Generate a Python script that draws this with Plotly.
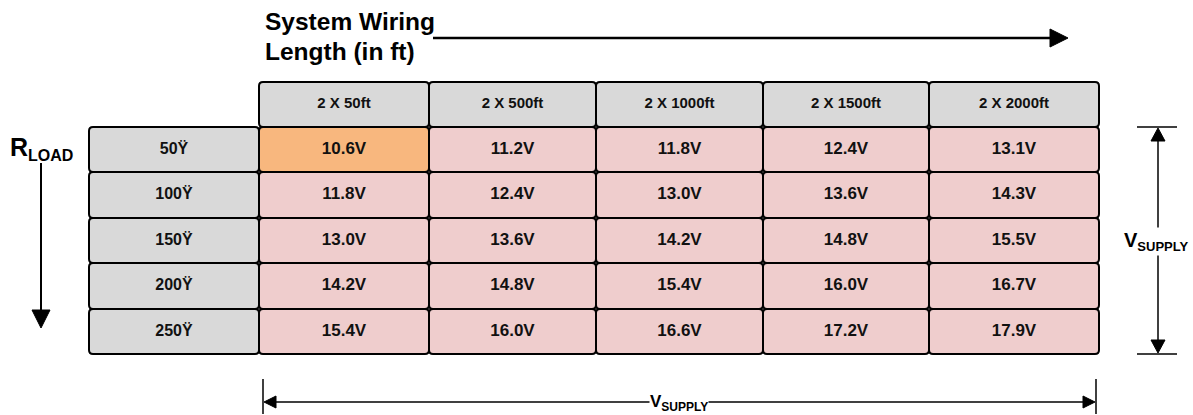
import plotly.graph_objects as go

# ---- data ----
wiring_lengths = ["2 X 50ft", "2 X 500ft", "2 X 1000ft", "2 X 1500ft", "2 X 2000ft"]
load_labels = ["50Ÿ", "100Ÿ", "150Ÿ", "200Ÿ", "250Ÿ"]
v_50 = [10.6, 11.2, 11.8, 12.4, 13.1]
v_100 = [11.8, 12.4, 13.0, 13.6, 14.3]
v_150 = [13.0, 13.6, 14.2, 14.8, 15.5]
v_200 = [14.2, 14.8, 15.4, 16.0, 16.7]
v_250 = [15.4, 16.0, 16.6, 17.2, 17.9]
values = [v_50, v_100, v_150, v_200, v_250]

# ---- layout geometry (pixel space) ----
W, H = 1193, 415
col_edges = [259, 429, 596, 763, 929, 1099]
label_col = (89, 259)
header_y = (82, 127)
row_edges = [127, 172, 218, 263, 309, 354]

GRAY = "#D9D9D9"
PINK = "#EFCDCD"
ORANGE = "#F8B77E"
FONT = "Liberation Sans, Arial, sans-serif"


def rrect(x0, y0, x1, y1, r=4):
    return (f"M {x0+r},{y0} L {x1-r},{y0} Q {x1},{y0} {x1},{y0+r} "
            f"L {x1},{y1-r} Q {x1},{y1} {x1-r},{y1} L {x0+r},{y1} "
            f"Q {x0},{y1} {x0},{y1-r} L {x0},{y0+r} Q {x0},{y0} {x0+r},{y0} Z")


shapes = []


def cell(x0, y0, x1, y1, fill):
    shapes.append(dict(type="path", path=rrect(x0, y0, x1, y1), fillcolor=fill,
                       line=dict(color="black", width=2), layer="below"))


tx, ty, tt, ts = [], [], [], []

# header cells
for j, lab in enumerate(wiring_lengths):
    x0, x1 = col_edges[j], col_edges[j + 1]
    cell(x0, header_y[0], x1, header_y[1], GRAY)
    tx.append((x0 + x1) / 2); ty.append(sum(header_y) / 2); tt.append(f"<b>{lab}</b>"); ts.append(15)

# row label cells and value cells
for i, lab in enumerate(load_labels):
    y0, y1 = row_edges[i], row_edges[i + 1]
    cell(label_col[0], y0, label_col[1], y1, GRAY)
    tx.append(sum(label_col) / 2); ty.append((y0 + y1) / 2); tt.append(f"<b>{lab}</b>"); ts.append(16)
    for j, v in enumerate(values[i]):
        x0, x1 = col_edges[j], col_edges[j + 1]
        fill = ORANGE if (i == 0 and j == 0) else PINK
        cell(x0, y0, x1, y1, fill)
        tx.append((x0 + x1) / 2); ty.append((y0 + y1) / 2); tt.append(f"<b>{v:.1f}V</b>"); ts.append(17)


def line(x0, y0, x1, y1, w=2):
    shapes.append(dict(type="line", x0=x0, y0=y0, x1=x1, y1=y1,
                       line=dict(color="black", width=w)))


def tri(pts):
    p = "M " + " L ".join(f"{a},{b}" for a, b in pts) + " Z"
    shapes.append(dict(type="path", path=p, fillcolor="black", line=dict(color="black", width=1)))


# top arrow (wiring length)
line(433, 38, 1052, 38, 2.5)
tri([(1050, 29), (1068, 38), (1050, 47)])

# left arrow (R load)
line(41, 163, 41, 312, 2)
tri([(32, 310), (41, 328), (50, 310)])

# right double arrow (V supply)
line(1137, 127, 1177, 127, 1.5)
line(1137, 354, 1177, 354, 1.5)
line(1158, 138, 1158, 343, 1.5)
tri([(1151, 141), (1158, 128), (1165, 141)])
tri([(1151, 340), (1158, 353), (1165, 340)])

# bottom double arrow (V supply)
line(263, 379, 263, 414, 1.5)
line(1096, 379, 1096, 414, 1.5)
line(272, 402, 1087, 402, 1.3)
tri([(276, 396), (264, 402), (276, 408)])
tri([(1083, 396), (1095, 402), (1083, 408)])

fig = go.Figure()
fig.add_trace(go.Scatter(x=tx, y=ty, text=tt, mode="text", hoverinfo="skip",
                         textfont=dict(family=FONT, size=ts, color="#111111"),
                         showlegend=False))

annotations = [
    dict(x=263, y=21, text="<b>System Wiring</b>", xanchor="left", yanchor="middle",
         font=dict(family=FONT, size=24.5, color="black"), showarrow=False),
    dict(x=263, y=51, text="<b>Length (in ft)</b>", xanchor="left", yanchor="middle",
         font=dict(family=FONT, size=24.5, color="black"), showarrow=False),
    dict(x=8, y=148, text="<b>R<sub><span style='font-size:16px'>LOAD</span></sub></b>",
         xanchor="left", yanchor="middle",
         font=dict(family=FONT, size=25, color="black"), showarrow=False),
    dict(x=1156, y=241, text="<b>V<sub><span style='font-size:13px'>SUPPLY</span></sub></b>",
         xanchor="center", yanchor="middle", bgcolor="white",
         font=dict(family=FONT, size=20, color="black"), showarrow=False),
    dict(x=679, y=403, text="<b>V<sub><span style='font-size:12px'>SUPPLY</span></sub></b>",
         xanchor="center", yanchor="middle", bgcolor="white", borderpad=0,
         font=dict(family=FONT, size=17, color="black"), showarrow=False),
]

fig.update_layout(
    width=W, height=H, margin=dict(l=0, r=0, t=0, b=0),
    paper_bgcolor="white", plot_bgcolor="white",
    xaxis=dict(range=[0, W], visible=False, fixedrange=True),
    yaxis=dict(range=[H, 0], visible=False, fixedrange=True),
    shapes=shapes, annotations=annotations,
)

fig.write_html("out.html", config={"displayModeBar": False, "staticPlot": True},
               post_script="document.body.style.margin='0';")
